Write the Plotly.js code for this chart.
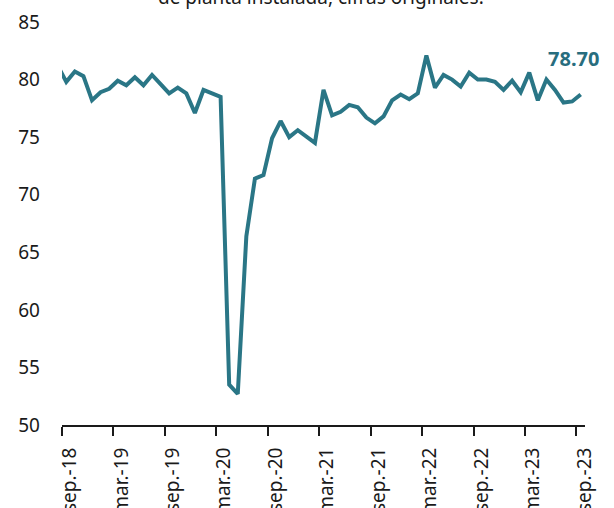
<!DOCTYPE html>
<html>
<head>
<meta charset="utf-8">
<script src="https://cdn.plot.ly/plotly-3.0.1.min.js"></script>
<style>
  html, body { margin: 0; padding: 0; background: #ffffff; }
  #chart { width: 614px; height: 508px; }
</style>
</head>
<body>
<div id="chart"></div>
<script>
// Monthly periods (first one lies just left of the visible axis range)
const periods = [
  "ago.-18","sep.-18","oct.-18","nov.-18","dic.-18",
  "ene.-19","feb.-19","mar.-19","abr.-19","may.-19","jun.-19","jul.-19","ago.-19","sep.-19","oct.-19","nov.-19","dic.-19",
  "ene.-20","feb.-20","mar.-20","abr.-20","may.-20","jun.-20","jul.-20","ago.-20","sep.-20","oct.-20","nov.-20","dic.-20",
  "ene.-21","feb.-21","mar.-21","abr.-21","may.-21","jun.-21","jul.-21","ago.-21","sep.-21","oct.-21","nov.-21","dic.-21",
  "ene.-22","feb.-22","mar.-22","abr.-22","may.-22","jun.-22","jul.-22","ago.-22","sep.-22","oct.-22","nov.-22","dic.-22",
  "ene.-23","feb.-23","mar.-23","abr.-23","may.-23","jun.-23","jul.-23","ago.-23","sep.-23"
];
// Capacity utilisation (%)
const utilizacion = [
  81.2, 79.8, 80.7, 80.3, 78.2,
  78.9, 79.2, 79.9, 79.5, 80.2, 79.5, 80.4, 79.6, 78.8, 79.3, 78.8, 77.1,
  79.1, 78.8, 78.5, 53.5, 52.7, 66.4, 71.4, 71.7, 74.9, 76.4, 75.0, 75.6,
  75.0, 74.5, 79.1, 76.9, 77.2, 77.8, 77.6, 76.7, 76.2, 76.8, 78.2, 78.7,
  78.3, 78.8, 82.1, 79.3, 80.4, 80.0, 79.4, 80.6, 80.0, 80.0, 79.8, 79.1,
  79.9, 78.9, 80.6, 78.2, 80.0, 79.1, 78.0, 78.1, 78.7
];
// Tick labels (every six months)
const tickLabels = ["sep.-18","mar.-19","sep.-19","mar.-20","sep.-20","mar.-21","sep.-21","mar.-22","sep.-22","mar.-23","sep.-23"];
const lastLabel = "78.70";
const titleText = "de planta instalada, cifras originales.";

// positions: category i centred at i + 0.5 relative to sep.-18 boundary
const firstIdx = periods.indexOf("sep.-18");
const xs = periods.map((p, i) => i - firstIdx + 0.5);
const tickVals = tickLabels.map(l => periods.indexOf(l) - firstIdx);
const nCats = periods.length - firstIdx;

const FONT = "Noto Sans, Open Sans, DejaVu Sans, sans-serif";
const lineColor = "#2a7686";

const trace = {
  x: xs,
  y: utilizacion,
  type: "scatter",
  mode: "lines",
  line: { color: lineColor, width: 4, shape: "linear" },
  hoverinfo: "skip"
};

const layout = {
  width: 614,
  height: 508,
  margin: { l: 62, r: 29, t: 22, b: 83, pad: 0 },
  paper_bgcolor: "#ffffff",
  plot_bgcolor: "#ffffff",
  showlegend: false,
  font: { family: FONT, size: 19, color: "#1a1a1a" },
  xaxis: {
    range: [0, nCats],
    tickmode: "array",
    tickvals: tickVals,
    ticktext: tickLabels,
    tickangle: -90,
    ticks: "outside",
    ticklen: 9,
    tickwidth: 2,
    tickcolor: "#1a1a1a",
    ticklabelshift: 8,
    ticklabelstandoff: 4,
    showline: true,
    linecolor: "#1a1a1a",
    linewidth: 2,
    showgrid: false,
    zeroline: false,
    tickfont: { family: FONT, size: 19, color: "#1a1a1a" },
    fixedrange: true
  },
  yaxis: {
    range: [50, 85],
    tickmode: "linear",
    tick0: 50,
    dtick: 5,
    ticks: "",
    showline: false,
    showgrid: false,
    zeroline: false,
    ticklabelstandoff: 21,
    tickfont: { family: FONT, size: 19, color: "#1a1a1a" },
    fixedrange: true
  },
  annotations: [
    {
      x: xs[xs.length - 1],
      y: utilizacion[utilizacion.length - 1],
      xref: "x", yref: "y",
      text: "<b>" + lastLabel + "</b>",
      showarrow: false,
      xanchor: "center", yanchor: "middle",
      xshift: -7, yshift: 36,
      font: { family: FONT, size: 20, color: "#286d7e" }
    },
    {
      x: 321, y: 1,
      xref: "paper", yref: "paper",
      text: titleText,
      showarrow: false,
      xanchor: "center", yanchor: "middle",
      yshift: 25,
      font: { family: FONT, size: 19, color: "#1a1a1a" }
    }
  ]
};
// title annotation x in pixels -> paper fraction
layout.annotations[1].x = (321 - layout.margin.l) / (614 - layout.margin.l - layout.margin.r);

Plotly.newPlot("chart", [trace], layout, { staticPlot: true, displayModeBar: false });
</script>
</body>
</html>
